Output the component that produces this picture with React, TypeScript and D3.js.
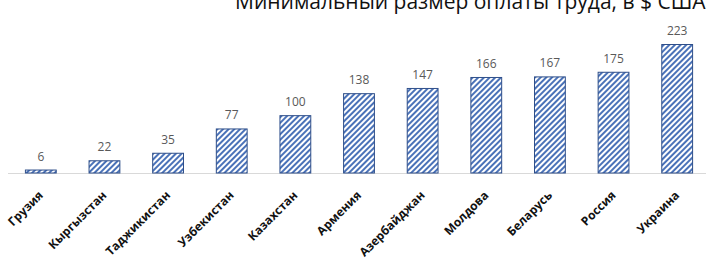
import React from "react";
import * as d3 from "d3";

const categories = ["Грузия", "Кыргызстан", "Таджикистан", "Узбекистан", "Казахстан", "Армения", "Азербайджан", "Молдова", "Беларусь", "Россия", "Украина"];
const values = [6, 22, 35, 77, 100, 138, 147, 166, 167, 175, 223];
const title = "Минимальный размер оплаты труда, в $ США";

const W = 706, H = 260;
const axisY = 173;

export default function App() {
  const x = d3.scaleBand<string>().domain(categories).range([9, 709]).paddingInner(0.5).paddingOuter(0.25);
  const y = d3.scaleLinear().domain([0, 223]).range([axisY, 44]);
  return (
    <svg width={W} height={H} style={{ position: "absolute", left: 0, top: 0, background: "#fff" }}>
      <defs>
        <pattern id="hatch" patternUnits="userSpaceOnUse" width="4" height="4" patternTransform="rotate(45)">
          <rect width="4" height="4" fill="#ffffff" />
          <rect width="2" height="4" fill="#4a72b8" />
        </pattern>
      </defs>
      <text x={235} y={9} fontFamily="'Open Sans', sans-serif" fontSize={21} fill="#111">{title}</text>
      <line x1={8} x2={706} y1={axisY + 0.5} y2={axisY + 0.5} stroke="#d9d9d9" strokeWidth={1} />
      {categories.map((c, i) => {
        const bx = x(c)!;
        const bw = x.bandwidth();
        const top = y(values[i]);
        const cx = bx + bw / 2;
        return (
          <g key={c}>
            <rect x={bx + 0.5} y={top + 0.5} width={bw - 1} height={axisY - top - 0.5} fill="url(#hatch)" stroke="#2f4f8a" strokeWidth={1} />
            <text x={cx} y={top - 9} textAnchor="middle" fontFamily="'Open Sans', sans-serif" fontSize={12} fill="#595959">{values[i]}</text>
            <text transform={`translate(${cx + 3},${axisY + 23}) rotate(-45)`} textAnchor="end" fontFamily="'Open Sans', sans-serif" fontWeight="bold" fontSize={12} fill="#111">{c}</text>
          </g>
        );
      })}
    </svg>
  );
}
